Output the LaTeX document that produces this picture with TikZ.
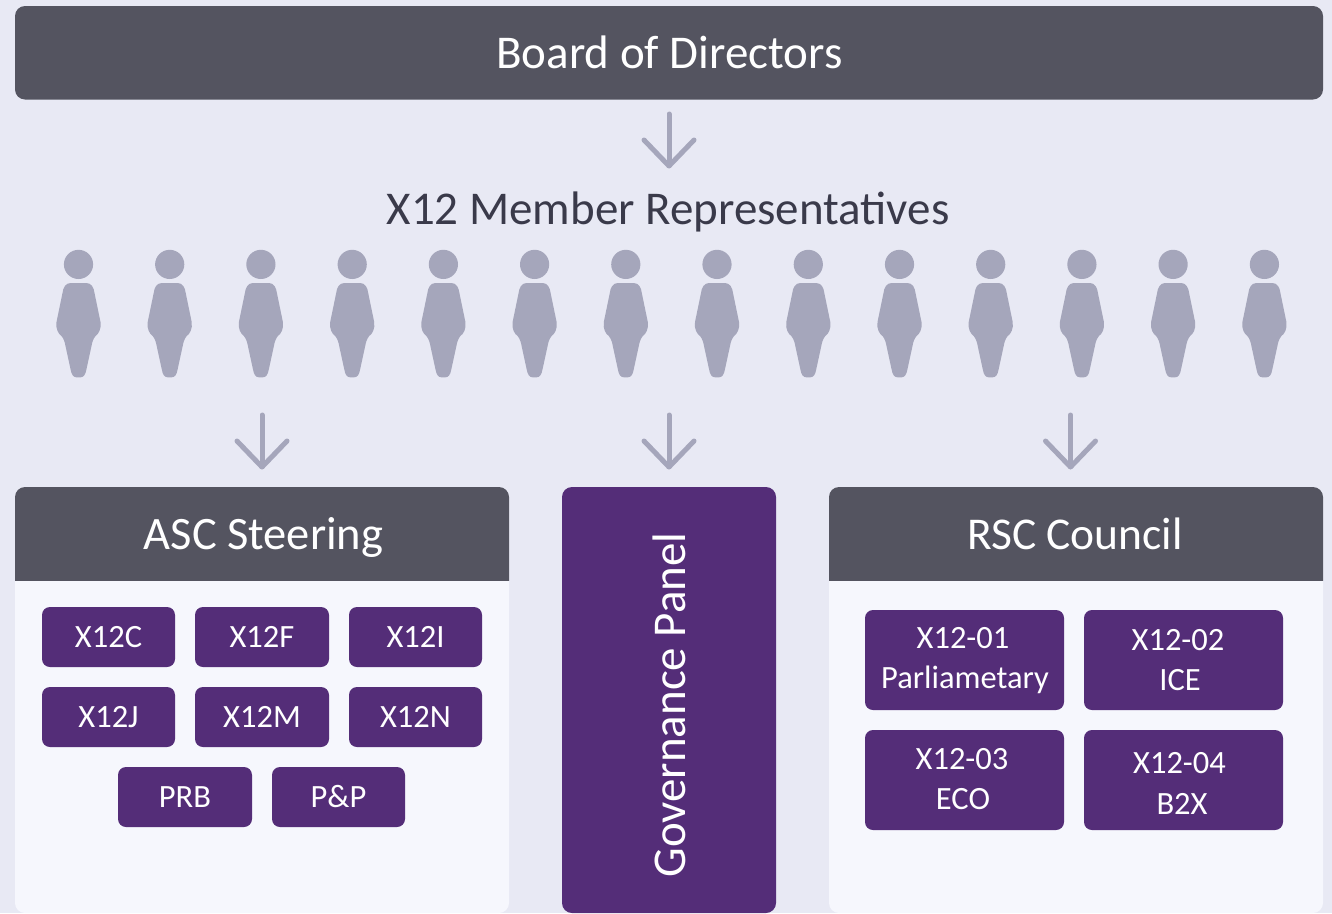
\documentclass[tikz,border=0pt]{standalone}
\usepackage{fontspec}
\setmainfont{Carlito}
\usetikzlibrary{arrows.meta}
\definecolor{bgc}{HTML}{E8E9F4}
\definecolor{darkc}{HTML}{545460}
\definecolor{purp}{HTML}{542D78}
\definecolor{panelc}{HTML}{F6F7FD}
\definecolor{grayc}{HTML}{A5A6BB}
\definecolor{txtc}{HTML}{3A3A4A}
\newcommand{\fsz}[1]{\fontsize{#1}{#1}\selectfont}
\tikzset{
  x=1pt,y=-1pt,
  box/.style={fill=#1,rounded corners=10pt,inner sep=0pt,outer sep=0pt,anchor=north west},
  wt/.style={text=white,inner sep=0pt},
  head/.style={wt,anchor=base,font=\fsz{46.5}},
  sub/.style={box=purp,rounded corners=8pt,minimum width=133pt,minimum height=60pt,text=white,font=\fsz{32.5}},
  rsub/.style={box=purp,rounded corners=8pt,minimum width=199pt,minimum height=100pt},
  rt/.style={wt,font=\fsz{32.5}},
  down/.style={draw=grayc,line width=5pt,line cap=round,-{Straight Barb[length=26pt,width=50pt,line width=5pt,round]}},
}
\newcommand{\person}[1]{%
  \begin{scope}[xshift=#1pt]
    \fill[grayc] (0,264.4) circle[radius=14.6];
    \fill[grayc] (-8,283) .. controls (-13,283) and (-15.5,288) .. (-16,293)
      -- (-22,322) .. controls (-23,329) and (-20,334) .. (-17,336)
      .. controls (-14.5,339) and (-13.5,343) .. (-13,346)
      -- (-8,369) .. controls (-7,375) and (-5,377.3) .. (-2,377.3)
      -- (2,377.3) .. controls (5,377.3) and (7,375) .. (8,369)
      -- (13,346) .. controls (13.5,343) and (14.5,339) .. (17,336)
      .. controls (20,334) and (23,329) .. (22,322)
      -- (16,293) .. controls (15.5,288) and (13,283) .. (8,283) -- cycle;
  \end{scope}}
\begin{document}
\begin{tikzpicture}
\useasboundingbox (0,0) rectangle (1332,913);
\fill[bgc] (0,0) rectangle (1332,913);
% board
\node[box=darkc,minimum width=1308pt,minimum height=93.5pt] (board) at (15,6) {};
\node[head,font=\fsz{47}] (boardt) at (669.5,68.5) {Board of Directors};
% representatives
\node[inner sep=0pt,anchor=base,text=txtc,font=\fsz{47}] (reps) at (668,224) {X12 Member Representatives};
\foreach \cx in {78.5,169.7,260.9,352.2,443.4,534.6,625.8,717,808.3,899.5,990.7,1081.9,1173.1,1264.4}{\person{\cx}}
% panels
\fill[panelc,rounded corners=10pt] (15,487) rectangle (509,913);
\fill[panelc,rounded corners=10pt] (829,487) rectangle (1323,913);
\begin{scope}
  \clip (0,480) rectangle (1332,580);
  \fill[darkc,rounded corners=10pt] (15,487) rectangle (509,620);
  \fill[darkc,rounded corners=10pt] (829,487) rectangle (1323,620);
\end{scope}
\node[head] (asc) at (263.5,549) {ASC Steering};
\node[head,font=\fsz{45.5}] (rsc) at (1075,549) {RSC Council};
\node[box=purp,minimum width=214pt,minimum height=426pt] (gov) at (562,487) {};
\node[head,rotate=90,font=\fsz{47}] (govt) at (685,705) {Governance Panel};
% ASC boxes
\node[sub] (c) at (42,607) {X12C};
\node[sub,minimum width=134pt] (f) at (195,607) {X12F};
\node[sub] (i) at (349,607) {X12I};
\node[sub] (j) at (42,687) {X12J};
\node[sub,minimum width=134pt] (m) at (195,687) {X12M};
\node[sub] (n) at (349,687) {X12N};
\node[sub,minimum width=134pt] (prb) at (118,767) {PRB};
\node[sub] (pp) at (272,767) {P\&P};
% RSC boxes
\node[rsub] (r1) at (865,610) {};
\node[rsub] (r2) at (1084,610) {};
\node[rsub] (r3) at (865,730) {};
\node[rsub] (r4) at (1084,730) {};
\node[rt] (r1a) at (963,638.5) {X12-01};
\node[rt] (r1b) at (965,680) {Parliametary};
\node[rt] (r2a) at (1178,640.5) {X12-02};
\node[rt] (r2b) at (1180,680) {ICE};
\node[rt] (r3a) at (962,759.5) {X12-03};
\node[rt] (r3b) at (963,799.5) {ECO};
\node[rt] (r4a) at (1179.5,763.5) {X12-04};
\node[rt] (r4b) at (1182,803.5) {B2X};
% arrows
\coordinate (a0) at (669,114);
\coordinate (a0e) at (669,168.5);
\coordinate (a1) at (262,415);
\coordinate (a1e) at (262,469.5);
\coordinate (a2) at (669,415);
\coordinate (a2e) at (669,469.5);
\coordinate (a3) at (1070.5,415);
\coordinate (a3e) at (1070.5,469.5);
\draw[down] (a0) -- (a0e);
\draw[down] (a1) -- (a1e);
\draw[down] (a2) -- (a2e);
\draw[down] (a3) -- (a3e);
\end{tikzpicture}
\end{document}
